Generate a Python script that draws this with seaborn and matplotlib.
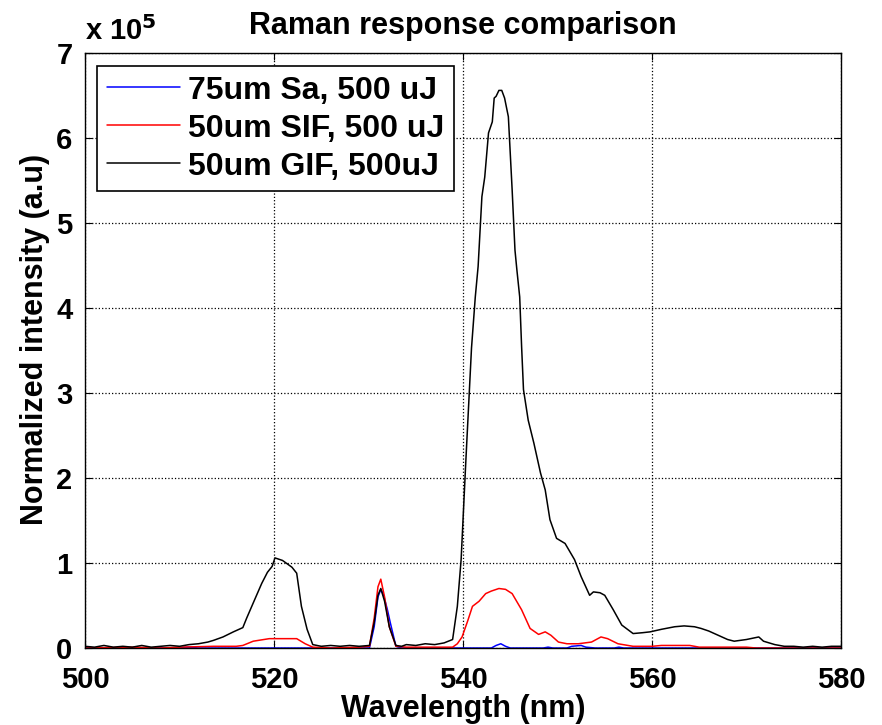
import numpy as np
import pandas as pd
from matplotlib import pyplot as plt
import seaborn as sns

# Raman response comparison, intensities in units of 1e5

wl_sa = [500, 510, 511, 512, 530.1, 530.6, 531.0, 531.3, 531.6, 532.0, 532.3, 532.9,
         533.5, 543, 543.5, 544.0, 544.5, 545, 548.5, 549, 549.5, 551, 551.5, 552.5,
         553, 554, 556, 556.5, 557, 580]
int_sa = [0.0, 0.0, 0.01, 0.0, 0.0, 0.25, 0.6, 0.69, 0.62, 0.45, 0.3, 0.02,
          0.0, 0.0, 0.03, 0.05, 0.02, 0.0, 0.0, 0.01, 0.0, 0.0, 0.02, 0.03,
          0.01, 0.0, 0.0, 0.01, 0.0, 0.0]

wl_sif = [500, 505, 508, 510, 513.6, 516.0, 516.7, 517.8, 519.5, 521, 522.4, 523.3,
          524.1, 526, 529, 530.1, 530.6, 531.0, 531.3, 531.7, 532.2, 532.9, 534, 536,
          538.9, 539.4, 539.9, 540.5, 541.0, 541.7, 542.4, 543.0, 543.8, 544.5, 545.2,
          546.2, 547.1, 548.0, 548.7, 549.3, 550.1, 551, 552.2, 553.6, 554.6, 555.3,
          556.4, 558.0, 560, 561, 564, 565, 570, 571, 580]
int_sif = [0.0, 0.01, 0.0, 0.01, 0.02, 0.02, 0.03, 0.08, 0.11, 0.11, 0.11, 0.05,
           0.01, 0.0, 0.01, 0.02, 0.35, 0.72, 0.81, 0.6, 0.25, 0.02, 0.01, 0.01,
           0.01, 0.05, 0.13, 0.32, 0.49, 0.55, 0.64, 0.67, 0.70, 0.69, 0.64,
           0.45, 0.23, 0.16, 0.19, 0.15, 0.07, 0.05, 0.05, 0.07, 0.13, 0.11,
           0.05, 0.02, 0.02, 0.03, 0.03, 0.01, 0.01, 0.0, 0.0]

wl_gif = [500, 501, 502, 503, 504, 505, 506, 507, 508, 509, 510, 511, 512, 513,
          513.6, 514.6, 515.7, 516.7, 517.1, 517.8, 518.7, 519.3, 519.8, 520.1, 520.9,
          521.9, 522.4, 522.9, 523.5, 524.1, 525, 526, 527, 528, 529, 530.1, 530.6,
          531.0, 531.3, 531.7, 532.2, 532.9, 533.5, 534, 535, 536, 537, 538, 538.9,
          539.4, 539.8, 540.3, 540.9, 541.3, 541.6, 542.0, 542.3, 542.7, 543.1, 543.3,
          543.5, 543.8, 544.1, 544.4, 544.8, 545.2, 545.5, 545.7, 546.0, 546.2, 546.4,
          546.9, 547.5, 548.2, 548.7, 549.2, 549.9, 550.8, 551.8, 552.5, 553.4, 553.8,
          554.5, 555.0, 555.9, 556.8, 558.0, 559.0, 559.8, 561.0, 562.4, 563.4, 564.5,
          565.2, 566.0, 567.0, 568.0, 568.7, 570.0, 571.3, 571.8, 573.0, 574.0, 575,
          576, 577, 578, 579, 580]
int_gif = [0.02, 0.01, 0.03, 0.01, 0.02, 0.01, 0.03, 0.01, 0.02, 0.03, 0.02, 0.04, 0.05, 0.07,
           0.09, 0.13, 0.19, 0.24, 0.35, 0.53, 0.76, 0.89, 0.96, 1.06, 1.03,
           0.95, 0.88, 0.49, 0.22, 0.04, 0.02, 0.03, 0.02, 0.03, 0.02, 0.03, 0.3,
           0.62, 0.70, 0.55, 0.25, 0.03, 0.02, 0.04, 0.03, 0.05, 0.04, 0.06, 0.10,
           0.49, 1.04, 2.2, 3.53, 4.13, 4.49, 5.31, 5.54, 6.06, 6.19, 6.47,
           6.49, 6.56, 6.56, 6.47, 6.25, 5.39, 4.68, 4.45, 4.13, 3.55, 3.04,
           2.68, 2.41, 2.06, 1.86, 1.51, 1.29, 1.23, 1.04, 0.84, 0.62, 0.66,
           0.65, 0.62, 0.45, 0.27, 0.17, 0.18, 0.19, 0.22, 0.25, 0.26, 0.25,
           0.23, 0.20, 0.15, 0.10, 0.08, 0.10, 0.13, 0.08, 0.04, 0.02, 0.02,
           0.01, 0.02, 0.01, 0.02, 0.02]

labels = ['75um Sa, 500 uJ', '50um SIF, 500 uJ', '50um GIF, 500uJ']
colors = ['#0000ff', '#ff0000', '#000000']

df = pd.concat([
    pd.DataFrame({'Wavelength': wl_sa, 'Intensity': int_sa, 'Fiber': labels[0]}),
    pd.DataFrame({'Wavelength': wl_sif, 'Intensity': int_sif, 'Fiber': labels[1]}),
    pd.DataFrame({'Wavelength': wl_gif, 'Intensity': int_gif, 'Fiber': labels[2]}),
], ignore_index=True)

sns.set_style('ticks')
plt.rcParams['font.family'] = ['Liberation Sans', 'DejaVu Sans']
plt.rcParams['font.weight'] = 'bold'
plt.rcParams['text.color'] = 'black'
plt.rcParams['axes.labelcolor'] = 'black'
plt.rcParams['xtick.color'] = 'black'
plt.rcParams['ytick.color'] = 'black'

fig = plt.figure(figsize=(8.82, 7.25), dpi=100)
ax = fig.add_axes([0.0964, 0.1062, 0.8571, 0.8207])

sns.lineplot(data=df, x='Wavelength', y='Intensity', hue='Fiber',
             palette=dict(zip(labels, colors)), estimator=None, sort=False,
             linewidth=1.1, ax=ax)

ax.set_xlim(500, 580)
ax.set_ylim(0, 7)
ax.set_xticks(np.arange(500, 581, 20))
ax.set_yticks(np.arange(0, 8, 1))
ax.grid(True, linestyle=':', color='black', linewidth=0.9)
ax.tick_params(direction='in', top=True, right=True, length=5, labelsize=21)
ax.tick_params(axis='x', pad=13)
ax.tick_params(axis='y', pad=9)
for s in ax.spines.values():
    s.set_linewidth(1.0)
    s.set_color('black')

ax.set_xlabel('Wavelength (nm)', fontsize=22, fontweight='bold', labelpad=0)
ax.set_ylabel('Normalized intensity (a.u)', fontsize=22, fontweight='bold', labelpad=4)
ax.yaxis.set_label_coords(-0.046, 0.518)
ax.set_title('Raman response comparison', fontsize=22, fontweight='bold', pad=14)
ax.text(0.0, 1.012, r'x 10$^{5}$', transform=ax.transAxes, fontsize=21,
        fontweight='bold', ha='left', va='bottom')

leg = ax.legend(loc='upper left', bbox_to_anchor=(0.016, 0.978), borderaxespad=0,
                fontsize=23, frameon=True, fancybox=False, edgecolor='black',
                framealpha=1, handlelength=2.3, handletextpad=0.25, borderpad=0.3,
                labelspacing=0.25)
leg.get_frame().set_linewidth(1.2)
for t in leg.get_texts():
    t.set_fontweight('bold')

fig.savefig('out.png', dpi=100)
